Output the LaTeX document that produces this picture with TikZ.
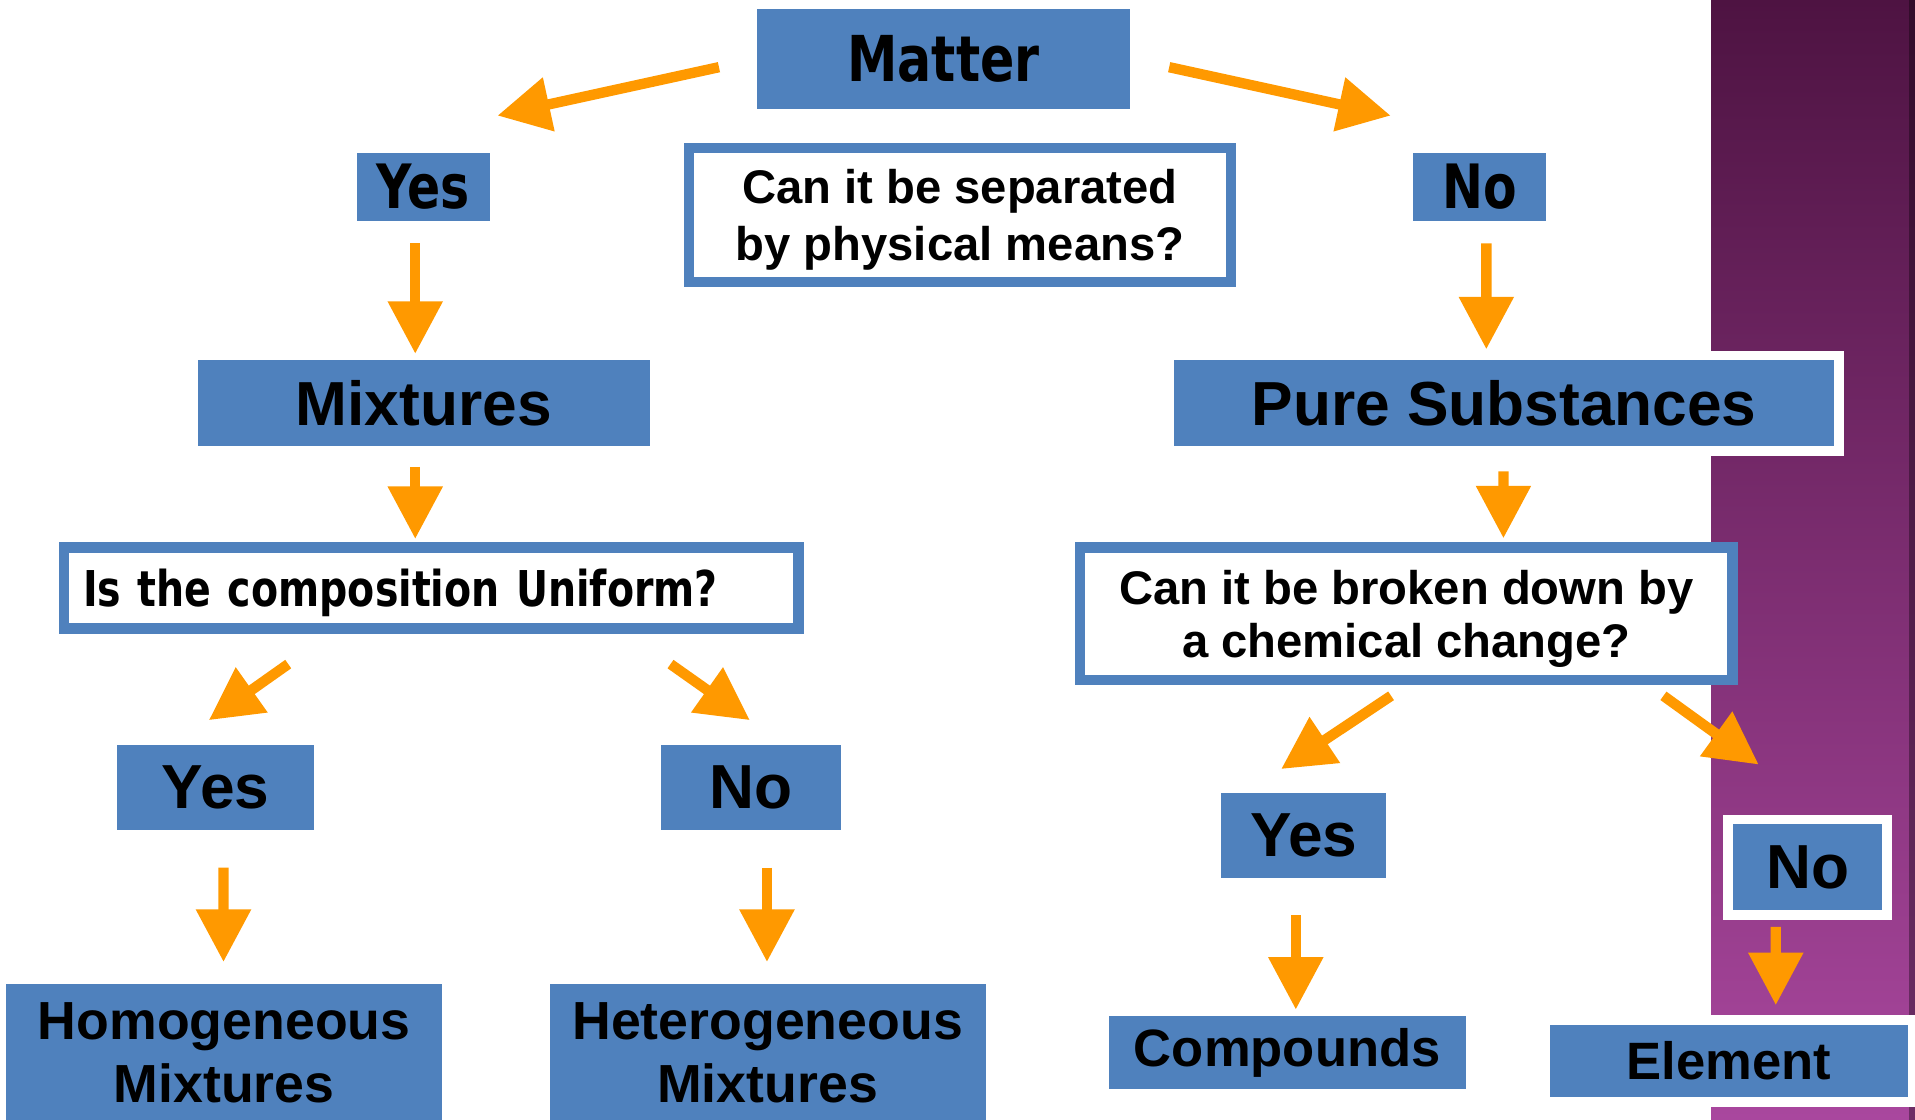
\documentclass[tikz,border=0pt]{standalone}
\usepackage{fontspec}
\setmainfont{Liberation Sans}
\newfontfamily\tahomafont[FakeStretch=0.8]{DejaVu Sans}
\usetikzlibrary{calc,
                arrows.meta
                }
\definecolor{kastenblau}{HTML}{4F81BD}
\definecolor{pfeilorange}{HTML}{FF9900}
\definecolor{lilaoben}{HTML}{4E1342}
\definecolor{lilamitte}{HTML}{853274}
\definecolor{lilaunten}{HTML}{A9479E}

\begin{document}
\begin{tikzpicture}[x=0.02cm, y=-0.02cm,
    kasten/.style={rectangle, fill=kastenblau, inner sep=0pt, align=center},
    frage/.style={rectangle, draw=kastenblau, line width=0.17cm, fill=white,
                  inner sep=0pt, align=center, text depth=0pt},
    rahmen/.style={draw=white, line width=0.16cm},
    pfeil/.style={draw=pfeilorange, line width=0.17cm,
                  -{Triangle[length=0.86cm, width=0.86cm]}},
    tahoma/.style={font=\tahomafont\fontsize{#1}{34}\selectfont\bfseries},
    arial/.style={font=\fontsize{#1}{34}\selectfont\bfseries}]
    \useasboundingbox (0,0) rectangle (1568,917);

    % Hintergrund rechts
    \shade[top color=lilaoben, middle color=lilamitte, bottom color=lilaunten]
    (1401,0) rectangle (1568,917);
    \fill[black, opacity=0.35] (1563,0) rectangle (1568,917);

    % Erste Frage
    \node[kasten, tahoma=29.5, minimum width=6.1cm, minimum height=1.64cm]
    (matter) at (772.5,48) {Matter};
    \node[frage, minimum width=8.87cm, minimum height=2.19cm,
          font=\fontsize{22}{26.5}\selectfont\bfseries]
    (q1) at (786,176) {Can it be separated\\by physical means?};
    \node[kasten, tahoma=28.5, minimum width=2.18cm, minimum height=1.12cm]
    (yes1) at (346.5,153) {Yes};
    \node[kasten, tahoma=28.5, minimum width=2.18cm, minimum height=1.12cm]
    (no1) at (1211.5,153) {No};

    % Gemische und Reinstoffe
    \node[kasten, arial=29, minimum width=7.4cm, minimum height=1.4cm]
    (mix) at (347,330) {Mixtures};
    \node[kasten, rahmen, arial=29, minimum width=10.98cm, minimum height=1.56cm]
    (pure) at (1231.5,330) {Pure Substances};

    % Zweite Fragen
    \node[frage, align=left, text width=11.4cm, inner xsep=0.315cm,
          minimum height=1.33cm, font=\tahomafont\fontsize{23}{28}\selectfont\bfseries]
    (q2) at (353,481.5) {Is the composition Uniform?};
    \node[frage, minimum width=10.69cm, minimum height=2.17cm,
          font=\fontsize{22}{24.5}\selectfont\bfseries]
    (q3) at (1151.5,502.5) {Can it be broken down by\\a chemical change?};

    % Antworten
    \node[kasten, arial=29, minimum width=3.22cm, minimum height=1.4cm]
    (yes2) at (176.5,645) {Yes};
    \node[kasten, arial=29, minimum width=2.96cm, minimum height=1.4cm]
    (no2) at (615,645) {No};
    \node[kasten, arial=29, minimum width=2.7cm, minimum height=1.4cm]
    (yes3) at (1067.5,684) {Yes};
    \node[kasten, rahmen, arial=29, minimum width=2.6cm, minimum height=1.56cm]
    (no3) at (1480,710) {No};

    % Ergebnisse
    \node[kasten, minimum width=7.14cm, minimum height=2.24cm,
          font=\fontsize{25}{29.5}\selectfont\bfseries]
    (homo) at (183.5,862) {Homogeneous\\Mixtures};
    \node[kasten, minimum width=7.14cm, minimum height=2.24cm,
          font=\fontsize{25}{29.5}\selectfont\bfseries]
    (hetero) at (628.5,862) {Heterogeneous\\Mixtures};
    \node[kasten, arial=24.5, minimum width=5.84cm, minimum height=1.2cm]
    (comp) at (1054,862) {Compounds};
    \node[kasten, rahmen, arial=24.5, minimum width=6.02cm, minimum height=1.34cm]
    (elem) at (1415.5,868.5) {Element};

    % Pfeile schraeg
    \draw[pfeil] ($(matter.west)+(-31,7)$) -- ($(yes1.north east)+(6,-30)$);
    \draw[pfeil] ($(matter.east)+(32,7)$) -- ($(no1.north west)+(-18,-30)$);
    \draw[pfeil] ($(q2.south)+(-117,24.75)$) -- ($(yes2.north)+(-5.5,-20)$);
    \draw[pfeil] ($(q2.south)+(196,24.75)$) -- ($(no2.north)+(-1,-20)$);
    \draw[pfeil] ($(q3.south)+(-12.5,8.75)$) -- ($(yes3.north)+(-18.5,-19)$);
    \draw[pfeil] ($(q3.south)+(210.5,8.75)$) -- ($(no3.north)+(-40,-41)$);

    % Pfeile senkrecht
    \draw[pfeil] ($(yes1.south)+(-6.5,18)$) -- ($(mix.north)+(-7,-5)$);
    \draw[pfeil] ($(no1.south)+(5.5,18)$) -- ($(pure.north)+(-14.5,-1)$);
    \draw[pfeil] ($(mix.south)+(-7,17)$) -- ($(q2.north)+(-13,-2.75)$);
    \draw[pfeil] ($(pure.south)+(-0.5,13)$) -- ($(q3.north)+(79.5,-3.25)$);
    \draw[pfeil] ($(yes2.south)+(6.5,30)$) -- ($(homo.north)+(-0.5,-18)$);
    \draw[pfeil] ($(no2.south)+(13,30)$) -- ($(hetero.north)+(-0.5,-18)$);
    \draw[pfeil] ($(yes3.south)+(-6.5,30)$) -- ($(comp.north)+(7,-5)$);
    \draw[pfeil] ($(no3.south)+(-26,6)$) -- ($(elem.north)+(38.5,-8)$);
\end{tikzpicture}
\end{document}
